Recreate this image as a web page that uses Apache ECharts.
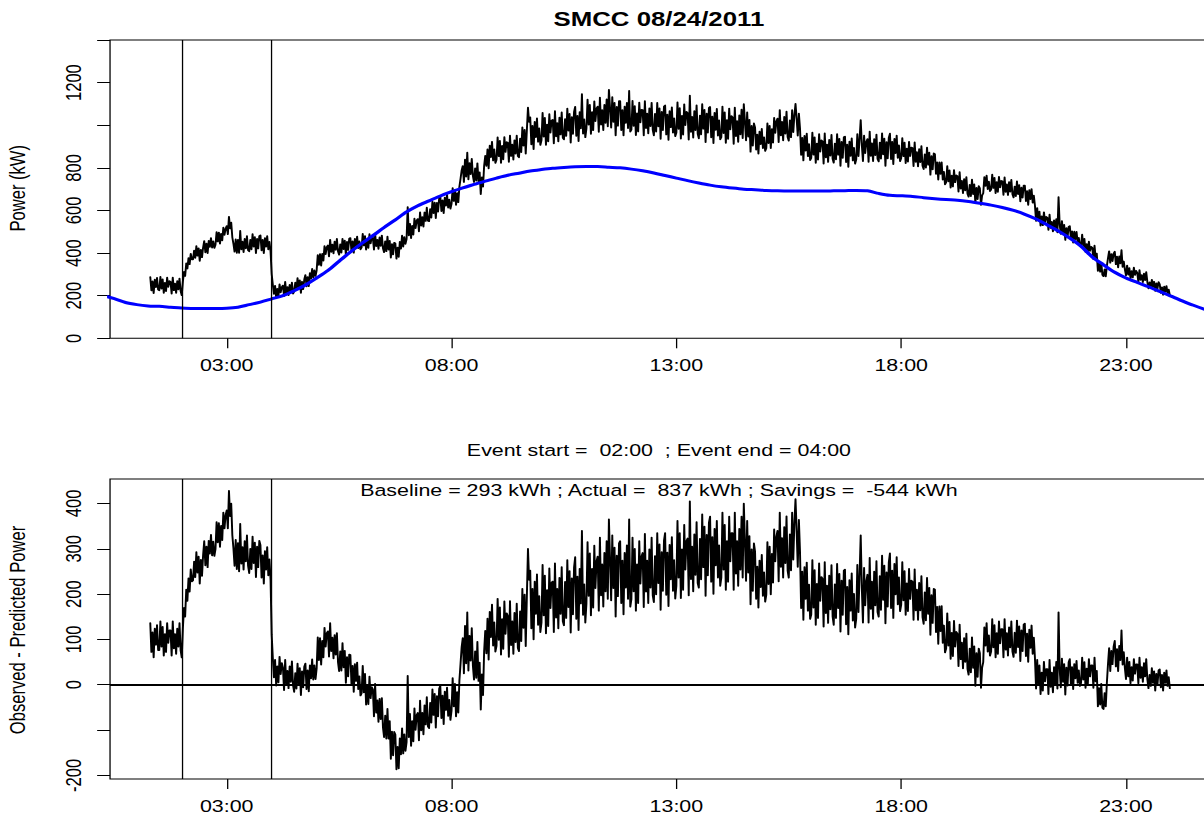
<!DOCTYPE html>
<html>
<head>
<meta charset="utf-8">
<title>SMCC 08/24/2011</title>
<script src="https://cdn.jsdelivr.net/npm/echarts@6/dist/echarts.min.js"></script>
<style>
  html, body { margin: 0; padding: 0; background: #fff; width: 1204px; height: 818px; overflow: hidden; }
  /* the plot is laid out on a narrower sheet and widened horizontally */
  #chart { width: 960px; height: 818px; transform: scaleX(1.29); transform-origin: 0 0; }
</style>
</head>
<body>
<div id="chart"></div>
<script>
// ---- data ---------------------------------------------------------------
// metered demand (kW), 90-second samples starting 01:18 (hours of day)
const obsStartHour = 1.3;
const obsStepHours = 0.025;
const observedKW = [
  288, 224, 268, 212, 276, 240, 284, 228,
  225, 289, 233, 277, 213, 261, 221, 285, 241, 269,
  265, 209, 285, 225, 257, 213, 269, 229, 281, 221,
  202, 267, 312, 292, 352, 327, 377, 347, 397, 370,
  370, 412, 377, 433, 387, 423, 363, 416, 380, 426,
  457, 403, 445, 399, 458, 429, 471, 425, 456, 424,
  439, 499, 454, 497, 444, 491, 459, 520, 485, 514,
  527, 488, 571, 515, 543, 473, 443, 406, 465, 400,
  463, 400, 505, 417, 454, 404, 467, 422, 480, 413,
  408, 462, 417, 489, 430, 476, 399, 467, 421, 480,
  484, 412, 462, 399, 471, 430, 480, 417, 453, 408,
  302, 252, 208, 247, 190, 233, 197, 254, 215, 240,
  248, 198, 265, 212, 241, 202, 251, 216, 262, 209,
  220, 262, 227, 283, 237, 273, 213, 266, 230, 276,
  297, 243, 288, 244, 306, 280, 326, 284, 319, 292,
  319, 391, 344, 396, 341, 397, 364, 433, 395, 428,
  436, 384, 463, 405, 440, 398, 454, 415, 467, 408,
  392, 441, 402, 467, 418, 459, 392, 453, 414, 468,
  471, 409, 455, 401, 467, 433, 478, 423, 456, 417,
  426, 491, 435, 480, 416, 464, 424, 489, 445, 474,
  472, 416, 492, 432, 463, 419, 474, 433, 483, 422,
  404, 456, 408, 478, 416, 458, 378, 442, 393, 449,
  446, 373, 426, 382, 453, 420, 482, 430, 476, 443,
  466, 616, 483, 538, 470, 528, 486, 562, 517, 553,
  560, 501, 592, 528, 569, 524, 591, 550, 614, 551,
  549, 607, 566, 642, 587, 637, 564, 636, 594, 657,
  666, 596, 648, 587, 661, 622, 674, 613, 651, 608,
  631, 705, 644, 696, 626, 682, 638, 712, 749, 788,
  809, 733, 839, 758, 872, 745, 823, 770, 843, 762,
  733, 798, 740, 822, 736, 779, 676, 756, 711, 810,
  857, 809, 887, 797, 905, 850, 923, 834, 887, 823,
  838, 943, 854, 927, 823, 904, 839, 945, 874, 921,
  918, 827, 952, 855, 909, 838, 930, 866, 952, 855,
  849, 938, 873, 990, 904, 979, 866, 977, 1083, 1015,
  1037, 910, 998, 887, 1016, 944, 1033, 922, 986, 907,
  929, 1058, 946, 1035, 907, 1004, 924, 1053, 965, 1022,
  1026, 914, 1067, 947, 1011, 924, 1036, 956, 1061, 941,
  933, 1029, 949, 1078, 974, 1054, 918, 1039, 959, 1063,
  1087, 950, 1044, 925, 1062, 985, 1146, 960, 1028, 943,
  985, 1121, 1002, 1096, 959, 1062, 976, 1113, 1019, 1079,
  1088, 968, 1130, 1002, 1071, 977, 1096, 1011, 1122, 994,
  1167, 1078, 988, 1132, 1015, 1105, 952, 1087, 997, 1114,
  1114, 977, 1071, 952, 1088, 1011, 1105, 986, 1162, 969,
  979, 1115, 996, 1090, 953, 1056, 970, 1107, 1013, 1073,
  1072, 952, 1114, 986, 1055, 961, 1080, 995, 1106, 978,
  952, 1054, 969, 1105, 994, 1080, 935, 1063, 977, 1088,
  1093, 956, 1050, 931, 1067, 990, 1084, 965, 1033, 948,
  964, 1108, 982, 1081, 937, 1045, 955, 1099, 1000, 1063,
  1058, 932, 1140, 968, 1040, 941, 1067, 977, 1094, 959,
  938, 1046, 956, 1100, 983, 1073, 920, 1055, 965, 1082,
  1086, 942, 1041, 915, 1059, 978, 1077, 951, 1023, 933,
  944, 1088, 962, 1061, 917, 1025, 935, 1079, 980, 1043,
  1038, 912, 1083, 948, 1020, 921, 1047, 957, 1074, 939,
  1100, 1017, 928, 1061, 946, 1026, 875, 997, 904, 1009,
  990, 885, 957, 866, 970, 911, 983, 892, 944, 879,
  892, 1009, 916, 998, 892, 982, 918, 1035, 964, 1019,
  1032, 920, 1072, 952, 1016, 928, 1040, 960, 1064, 944,
  927, 1023, 943, 1071, 967, 1047, 1101, 1031, 951, 1055,
  984, 860, 941, 834, 951, 880, 961, 854, 912, 836,
  846, 966, 861, 944, 823, 914, 838, 959, 876, 929,
  925, 819, 962, 849, 910, 827, 932, 857, 955, 842,
  824, 914, 839, 959, 861, 937, 809, 922, 846, 944,
  947, 826, 909, 804, 924, 856, 939, 834, 894, 819,
  839, 959, 854, 937, 1024, 907, 831, 952, 869, 922,
  935, 828, 970, 856, 916, 831, 935, 859, 956, 841,
  830, 919, 843, 962, 863, 938, 809, 921, 844, 942,
  961, 840, 923, 817, 937, 869, 952, 846, 906, 831,
  845, 940, 854, 919, 822, 891, 829, 923, 855, 896,
  894, 808, 920, 828, 874, 806, 888, 826, 902, 810,
  794, 864, 801, 895, 814, 872, 767, 855, 792, 868,
  865, 771, 826, 744, 826, 771, 826, 744, 782, 722,
  731, 809, 736, 789, 707, 764, 712, 790, 732, 765,
  761, 688, 780, 702, 739, 681, 748, 694, 757, 678,
  664, 721, 667, 745, 676, 723, 634, 707, 653, 715,
  704, 626, 670, 681, 757, 715, 764, 700, 736, 690,
  698, 769, 705, 754, 681, 734, 687, 758, 708, 739,
  737, 673, 756, 687, 723, 672, 734, 688, 744, 676,
  661, 713, 667, 737, 676, 720, 642, 708, 660, 717,
  717, 643, 691, 626, 696, 653, 701, 636, 670, 623,
  551, 612, 553, 595, 528, 573, 530, 592, 545, 570,
  567, 508, 581, 518, 547, 501, 554, 511, 560, 497,
  663, 534, 490, 551, 496, 533, 461, 518, 475, 523,
  527, 466, 502, 449, 501, 465, 500, 448, 472, 433,
  436, 487, 433, 467, 405, 443, 402, 454, 410, 430,
  425, 371, 435, 378, 398, 316, 353, 312, 355, 298,
  291, 324, 290, 340, 377, 409, 354, 396, 362, 398,
  407, 347, 384, 332, 385, 351, 414, 335, 361, 323,
  295, 342, 298, 330, 281, 316, 285, 332, 297, 317,
  307, 264, 320, 274, 297, 263, 304, 273, 311, 265,
  234, 263, 237, 275, 241, 266, 222, 258, 233, 264,
  254, 213, 240, 204, 243, 219, 246, 210, 229, 203
];

// observed minus predicted power (kW), same 90-second samples
const differenceKW = [
  136, 72, 116, 60, 124, 88, 132, 76,
  76, 140, 84, 128, 64, 112, 72, 136, 92, 120,
  120, 64, 140, 80, 112, 68, 124, 84, 136, 76,
  60, 125, 170, 150, 210, 185, 235, 205, 255, 228,
  230, 272, 237, 293, 247, 283, 223, 276, 240, 286,
  317, 263, 305, 259, 318, 289, 331, 285, 316, 284,
  299, 359, 314, 357, 304, 351, 319, 380, 345, 374,
  385, 345, 428, 372, 400, 330, 300, 262, 320, 255,
  313, 250, 355, 267, 304, 254, 317, 272, 330, 263,
  246, 300, 255, 327, 268, 314, 237, 305, 259, 318,
  308, 236, 286, 223, 295, 254, 304, 241, 277, 232,
  110, 60, 16, 55, -2, 41, 5, 62, 23, 48,
  38, -12, 55, 2, 31, -8, 41, 6, 52, -1,
  -16, 26, -9, 47, 1, 37, -23, 30, -6, 40,
  47, -10, 32, -15, 43, 14, 56, 11, 43, 12,
  36, 105, 54, 103, 44, 97, 60, 126, 84, 114,
  118, 62, 136, 74, 104, 58, 110, 66, 114, 50,
  30, 74, 31, 92, 38, 75, 4, 61, 18, 67,
  66, 0, 42, -16, 46, 8, 49, -10, 19, -24,
  -19, 42, -17, 24, -44, 0, -43, 18, -30, -5,
  -10, -70, 2, -62, -34, -82, -31, -76, -29, -94,
  -116, -68, -119, -53, -119, -80, -164, -103, -156, -104,
  -110, -187, -137, -185, -118, -154, -96, -152, -109, -146,
  -127, 20, -116, -64, -135, -80, -125, -52, -100, -67,
  -62, -123, -35, -101, -62, -110, -45, -88, -27, -92,
  -96, -40, -84, -10, -67, -20, -95, -25, -70, -9,
  -2, -74, -24, -87, -15, -56, -6, -69, -33, -78,
  -57, 15, -48, 2, -70, -16, -62, 10, 46, 83,
  103, 25, 130, 47, 160, 31, 108, 53, 125, 42,
  11, 74, 15, 95, 8, 49, -55, 23, -23, 74,
  119, 69, 146, 55, 161, 105, 177, 86, 138, 73,
  86, 190, 99, 171, 66, 145, 79, 184, 112, 158,
  153, 61, 185, 87, 140, 68, 159, 94, 179, 81,
  74, 162, 96, 212, 125, 199, 85, 195, 300, 231,
  252, 124, 212, 100, 228, 156, 244, 132, 196, 116,
  137, 265, 153, 241, 113, 209, 129, 257, 169, 225,
  228, 116, 268, 148, 212, 124, 236, 156, 260, 140,
  131, 227, 147, 275, 171, 251, 115, 235, 155, 259,
  282, 145, 239, 120, 256, 179, 340, 154, 222, 137,
  179, 315, 196, 290, 153, 256, 170, 307, 213, 273,
  283, 163, 325, 197, 266, 172, 291, 206, 317, 189,
  365, 276, 186, 330, 213, 303, 150, 285, 195, 312,
  317, 180, 274, 155, 291, 214, 308, 189, 365, 172,
  189, 325, 206, 300, 163, 266, 180, 317, 223, 283,
  291, 171, 333, 205, 274, 180, 299, 214, 325, 197,
  182, 284, 199, 335, 224, 310, 165, 293, 207, 318,
  335, 198, 292, 173, 309, 232, 326, 207, 275, 190,
  218, 362, 236, 335, 191, 299, 209, 353, 254, 317,
  323, 197, 405, 233, 305, 206, 332, 242, 359, 224,
  214, 322, 232, 376, 259, 349, 196, 331, 241, 358,
  371, 227, 326, 200, 344, 263, 362, 236, 308, 218,
  236, 380, 254, 353, 209, 317, 227, 371, 272, 335,
  335, 209, 380, 245, 317, 218, 344, 254, 371, 236,
  400, 317, 229, 362, 247, 328, 177, 299, 207, 312,
  294, 189, 261, 170, 274, 215, 287, 196, 248, 183,
  198, 315, 222, 305, 199, 289, 225, 343, 272, 327,
  340, 228, 380, 260, 324, 236, 348, 268, 372, 252,
  236, 332, 252, 380, 276, 356, 410, 340, 260, 364,
  293, 169, 250, 143, 260, 189, 270, 163, 221, 145,
  155, 275, 170, 253, 132, 223, 147, 268, 185, 238,
  234, 128, 271, 158, 219, 136, 241, 166, 264, 151,
  132, 222, 147, 267, 169, 245, 117, 230, 154, 252,
  254, 133, 216, 111, 231, 163, 246, 141, 201, 126,
  145, 265, 160, 243, 330, 213, 137, 258, 175, 228,
  243, 137, 280, 167, 228, 145, 250, 175, 273, 160,
  150, 240, 165, 285, 187, 263, 135, 248, 172, 270,
  290, 169, 252, 147, 267, 199, 282, 177, 237, 162,
  176, 271, 186, 251, 154, 224, 162, 256, 189, 230,
  228, 143, 255, 164, 210, 143, 225, 164, 240, 149,
  134, 204, 142, 236, 156, 214, 110, 198, 136, 212,
  210, 116, 172, 90, 173, 118, 174, 92, 131, 71,
  80, 158, 86, 139, 57, 115, 63, 141, 84, 117,
  113, 41, 133, 56, 93, 36, 103, 50, 113, 35,
  22, 80, 27, 105, 37, 85, -3, 70, 17, 80,
  70, -7, 38, 50, 127, 86, 136, 73, 109, 64,
  73, 145, 82, 132, 60, 114, 68, 140, 91, 123,
  123, 60, 145, 77, 114, 64, 127, 82, 140, 73,
  61, 115, 70, 142, 83, 129, 52, 120, 74, 133,
  135, 63, 113, 50, 122, 81, 131, 68, 104, 59,
  -9, 55, -1, 43, -21, 27, -13, 51, 7, 35,
  35, -21, 55, -5, 27, -17, 39, -1, 51, -9,
  160, 34, -6, 58, 6, 46, -22, 38, -2, 50,
  57, 0, 39, -10, 46, 14, 53, 4, 32, -3,
  4, 60, 11, 50, -7, 36, 0, 57, 18, 43,
  43, -7, 60, 7, 31, -48, -7, -44, 2, -51,
  -54, -18, -48, 5, 46, 81, 30, 75, 45, 84,
  97, 40, 79, 30, 86, 54, 120, 44, 72, 37,
  12, 60, 18, 51, 3, 39, 9, 57, 24, 45,
  45, 3, 60, 15, 39, 6, 48, 18, 57, 12,
  -8, 22, -3, 37, 4, 30, -13, 24, 0, 32,
  34, -6, 22, -13, 27, 4, 32, -3, 17, -8
];

// predicted (baseline) demand (kW), every 15 minutes from 00:15
const predStartHour = 0.25;
const predStepHours = 0.25;
const predictedKW = [
  200, 186, 168, 158, 152, 150, 146, 142, 140, 140, 140, 141, 146, 158, 170, 185,
  200, 223, 250, 283, 318, 362, 405, 445, 482, 520, 556, 593, 622, 645, 668, 688,
  706, 722, 738, 752, 765, 775, 785, 792, 798, 802, 805, 806, 806, 803, 800, 794,
  786, 776, 764, 752, 740, 729, 719, 711, 705, 700, 697, 694, 692, 691, 691, 691,
  691, 692, 693, 694, 692, 680, 671, 669, 666, 660, 655, 651, 648, 642, 634, 625,
  614, 600, 582, 560, 532, 503, 470, 432, 382, 345, 310, 283, 262, 242, 220, 198,
  176, 155, 136, 120
];

const eventHours = [2, 4];
const hourTicks = [3, 8, 13, 18, 23];
const powerTicks = [0, 200, 400, 600, 800, 1000, 1200, 1400];
const powerLabels = [0, 200, 400, 600, 800, 1200];
const diffTicks = [-200, -100, 0, 100, 200, 300, 400];
const diffLabels = [-200, 0, 100, 200, 300, 400];

const titleText = 'SMCC 08/24/2011';
const eventText = 'Event start =\u00a0 02:00\u00a0 ; Event end = 04:00';
const energyText = 'Baseline = 293 kWh ; Actual =\u00a0 837 kWh ; Savings =\u00a0 -544 kWh';

// ---- chart --------------------------------------------------------------
const FONT = '"Liberation Sans", Arial, Helvetica, sans-serif';
const FS = 16.6;

function toPairs(start, step, values) {
  return values.map((v, i) => [Math.round((start + i * step) * 10000) / 10000, v]);
}
function hourLabel(v) {
  return String(Math.round(v)).padStart(2, '0') + ':00';
}

const gridLeft = 85.3;
const gridWidth = 851;
const centerX = gridLeft + gridWidth / 2;

function xAxisFor(gridIndex) {
  return {
    type: 'value', gridIndex, min: 0.405, max: 24.82,
    axisLine: { show: false, onZero: false },
    splitLine: { show: false },
    axisTick: { show: true, customValues: hourTicks, length: 10, lineStyle: { color: '#000', width: 1 } },
    axisLabel: { customValues: hourTicks, formatter: hourLabel, color: '#000', fontSize: FS, fontFamily: FONT, margin: 19 }
  };
}
function yAxisFor(gridIndex, min, max, ticks, labels) {
  return {
    type: 'value', gridIndex, min, max,
    axisLine: { show: false, onZero: false },
    splitLine: { show: false },
    axisTick: { show: true, customValues: ticks, length: 10, lineStyle: { color: '#000', width: 1 } },
    axisLabel: { customValues: labels, formatter: v => String(v), rotate: 90, color: '#000', fontSize: FS, fontFamily: FONT, margin: 20 }
  };
}
const eventLines = eventHours.map(h => ({ xAxis: h }));
const markLineBase = {
  silent: true, symbol: 'none', animation: false,
  label: { show: false }, emphasis: { disabled: true },
  lineStyle: { color: '#000', width: 1, type: 'solid' }
};
const noisyLine = { color: '#000', width: 1.5, join: 'round', cap: 'round' };

const chart = echarts.init(document.getElementById('chart'), null, { renderer: 'svg' });
chart.setOption({
  animation: false,
  backgroundColor: '#fff',
  grid: [
    { left: gridLeft, top: 40, width: gridWidth, height: 298.3, show: true, borderColor: '#000', borderWidth: 1, backgroundColor: 'transparent' },
    { left: gridLeft, top: 479, width: gridWidth, height: 300, show: true, borderColor: '#000', borderWidth: 1, backgroundColor: 'transparent' }
  ],
  xAxis: [xAxisFor(0), xAxisFor(1)],
  yAxis: [
    yAxisFor(0, 0, 1400, powerTicks, powerLabels),
    yAxisFor(1, -208, 454, diffTicks, diffLabels)
  ],
  graphic: [
    { type: 'text', x: centerX, y: 19, style: { text: titleText, font: 'bold 20px ' + FONT, fill: '#000', align: 'center', verticalAlign: 'middle' } },
    { type: 'text', x: centerX, y: 450, style: { text: eventText, font: FS + 'px ' + FONT, fill: '#000', align: 'center', verticalAlign: 'middle' } },
    { type: 'text', x: centerX, y: 490, style: { text: energyText, font: FS + 'px ' + FONT, fill: '#000', align: 'center', verticalAlign: 'middle' } },
    { type: 'text', x: 14, y: 188.3, rotation: Math.PI / 2, style: { text: 'Power (kW)', font: FS + 'px ' + FONT, fill: '#000', align: 'center', verticalAlign: 'middle' } },
    { type: 'text', x: 14, y: 630, rotation: Math.PI / 2, style: { text: 'Observed - Predicted Power', font: FS + 'px ' + FONT, fill: '#000', align: 'center', verticalAlign: 'middle' } }
  ],
  series: [
    {
      name: 'Observed', type: 'line', xAxisIndex: 0, yAxisIndex: 0,
      data: toPairs(obsStartHour, obsStepHours, observedKW),
      symbol: 'none', showSymbol: false,
      lineStyle: noisyLine,
      emphasis: { disabled: true },
      markLine: Object.assign({}, markLineBase, { data: eventLines })
    },
    {
      name: 'Predicted', type: 'line', xAxisIndex: 0, yAxisIndex: 0,
      data: toPairs(predStartHour, predStepHours, predictedKW),
      symbol: 'none', showSymbol: false, smooth: 0.3,
      lineStyle: { color: '#0000ff', width: 3, join: 'round' },
      emphasis: { disabled: true }
    },
    {
      name: 'Observed - Predicted', type: 'line', xAxisIndex: 1, yAxisIndex: 1,
      data: toPairs(obsStartHour, obsStepHours, differenceKW),
      symbol: 'none', showSymbol: false,
      lineStyle: noisyLine,
      emphasis: { disabled: true },
      markLine: Object.assign({}, markLineBase, {
        data: eventLines.concat([{ yAxis: 0, lineStyle: { color: '#000', width: 2, type: 'solid' } }])
      })
    }
  ]
});
</script>
</body>
</html>
